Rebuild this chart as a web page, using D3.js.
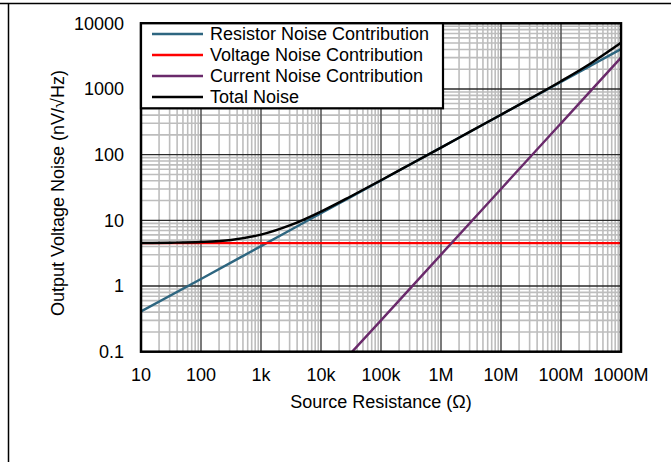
<!DOCTYPE html>
<html>
<head>
<meta charset="utf-8">
<script src="https://cdn.jsdelivr.net/npm/d3@7"></script>
<style>
  html, body { margin: 0; padding: 0; background: #fff; }
  svg { display: block; font-family: "Liberation Sans", Arial, sans-serif; }
</style>
</head>
<body>
<svg id="chart" width="671" height="462"></svg>
<script>
// Source resistance decades (ohms) and their tick labels
const xTicks = [10, 100, 1e3, 1e4, 1e5, 1e6, 1e7, 1e8, 1e9];
const xTickLabels = ["10", "100", "1k", "10k", "100k", "1M", "10M", "100M", "1000M"];
const yTicks = [0.1, 1, 10, 100, 1000, 10000];
const yTickLabels = ["0.1", "1", "10", "100", "1000", "10000"];

// Resistor thermal noise (nV/√Hz) vs. source resistance
const resistorR = [10, 100, 1e3, 1e4, 1e5, 1e6, 1e7, 1e8, 1e9];
const resistorNoise = [0.41, 1.28, 4.05, 12.8, 40.5, 128, 405, 1280, 4050];

// Amplifier voltage noise, flat across resistance
const voltageR = [10, 1e9];
const voltageNoise = [4.5, 4.5];

// Current noise times source resistance
const currentR = [3.3e4, 1e5, 1e6, 1e7, 1e8, 1e9];
const currentNoise = [0.1, 0.3, 3, 30, 300, 3000];

// Total output noise
const totalR = [10, 31.6, 100, 316, 1e3, 3160, 1e4, 31600, 1e5, 316000, 1e6, 3.16e6, 1e7, 3.16e7, 1e8, 3.16e8, 1e9];
const totalNoise = [4.52, 4.56, 4.68, 5.03, 6.05, 8.5, 13.6, 23.3, 40.8, 72.2, 128.1, 228.2, 406, 726, 1315, 2470, 5040];

const seriesNames = ["Resistor Noise Contribution", "Voltage Noise Contribution", "Current Noise Contribution", "Total Noise"];
const seriesColors = ["#2e6680", "#ff0000", "#6a2a6b", "#000000"];

const series = [
  { name: seriesNames[0], color: seriesColors[0], xs: resistorR, ys: resistorNoise },
  { name: seriesNames[1], color: seriesColors[1], xs: voltageR, ys: voltageNoise },
  { name: seriesNames[2], color: seriesColors[2], xs: currentR, ys: currentNoise },
  { name: seriesNames[3], color: seriesColors[3], xs: totalR, ys: totalNoise }
];

const svg = d3.select("#chart");
const plot = { left: 141, right: 621, top: 23.3, bottom: 351.7 };

const x = d3.scaleLog().domain([10, 1e9]).range([plot.left, plot.right]);
const y = d3.scaleLog().domain([0.1, 10000]).range([plot.bottom, plot.top]);

// Outer frame lines
svg.append("line").attr("x1", 0).attr("x2", 671).attr("y1", 3.5).attr("y2", 3.5)
  .attr("stroke", "#000").attr("stroke-width", 1.5);
svg.append("line").attr("x1", 8.5).attr("x2", 8.5).attr("y1", 3).attr("y2", 462)
  .attr("stroke", "#000").attr("stroke-width", 1.5);

// Minor grid values (2..9 within each decade)
const minorX = [];
for (let d = 10; d < 1e9; d *= 10) for (let m = 2; m <= 9; m++) minorX.push(d * m);
const minorY = [];
for (let d = 0.1; d < 10000 * 0.99; d *= 10) for (let m = 2; m <= 9; m++) minorY.push(d * m);

const grid = svg.append("g");
grid.selectAll(".mx").data(minorX).join("line")
  .attr("x1", d => x(d)).attr("x2", d => x(d))
  .attr("y1", plot.top).attr("y2", plot.bottom)
  .attr("stroke", "#bdbdbd").attr("stroke-width", 1.6);
grid.selectAll(".my").data(minorY).join("line")
  .attr("x1", plot.left).attr("x2", plot.right)
  .attr("y1", d => y(d)).attr("y2", d => y(d))
  .attr("stroke", "#bdbdbd").attr("stroke-width", 1.6);
grid.selectAll(".Mx").data(xTicks.slice(1, -1)).join("line")
  .attr("x1", d => x(d)).attr("x2", d => x(d))
  .attr("y1", plot.top).attr("y2", plot.bottom)
  .attr("stroke", "#5a5a5a").attr("stroke-width", 1.6);
grid.selectAll(".My").data(yTicks.slice(1, -1)).join("line")
  .attr("x1", plot.left).attr("x2", plot.right)
  .attr("y1", d => y(d)).attr("y2", d => y(d))
  .attr("stroke", "#2a2a2a").attr("stroke-width", 1.3);

// Data lines, clipped to the plot area
svg.append("clipPath").attr("id", "clip").append("rect")
  .attr("x", plot.left).attr("y", plot.top)
  .attr("width", plot.right - plot.left).attr("height", plot.bottom - plot.top);

const line = d3.line().x(d => x(d[0])).y(d => y(d[1])).curve(d3.curveMonotoneX);
const lines = svg.append("g").attr("clip-path", "url(#clip)");
lines.selectAll("path").data(series).join("path")
  .attr("d", s => line(s.xs.map((v, i) => [v, s.ys[i]])))
  .attr("fill", "none")
  .attr("stroke", s => s.color)
  .attr("stroke-width", 2.4);

// Plot border
svg.append("rect")
  .attr("x", plot.left).attr("y", plot.top)
  .attr("width", plot.right - plot.left).attr("height", plot.bottom - plot.top)
  .attr("fill", "none").attr("stroke", "#000").attr("stroke-width", 2.5);

// Legend
const legend = svg.append("g");
legend.append("rect")
  .attr("x", plot.left).attr("y", plot.top)
  .attr("width", 302).attr("height", 85)
  .attr("fill", "#fff").attr("stroke", "#000").attr("stroke-width", 2.2);
const rows = legend.selectAll("g.row").data(series).join("g")
  .attr("transform", (d, i) => `translate(0, ${34 + i * 21})`);
rows.append("line").attr("x1", 152).attr("x2", 203).attr("y1", 0).attr("y2", 0)
  .attr("stroke", d => d.color).attr("stroke-width", 2.4);
rows.append("text").attr("x", 210).attr("y", 0).attr("dy", "0.35em")
  .attr("font-size", 18).attr("fill", "#000").text(d => d.name);

// X axis tick labels
svg.append("g").selectAll("text").data(xTicks).join("text")
  .attr("x", d => x(d)).attr("y", 381)
  .attr("text-anchor", "middle").attr("font-size", 18)
  .text((d, i) => xTickLabels[i]);

// Y axis tick labels
svg.append("g").selectAll("text").data(yTicks).join("text")
  .attr("x", 124).attr("y", d => y(d)).attr("dy", "0.35em")
  .attr("text-anchor", "end").attr("font-size", 18)
  .text((d, i) => yTickLabels[i]);

// Axis titles
svg.append("text").attr("x", 381).attr("y", 408)
  .attr("text-anchor", "middle").attr("font-size", 18)
  .text("Source Resistance (Ω)");
svg.append("text")
  .attr("transform", "translate(64, 193) rotate(-90)")
  .attr("text-anchor", "middle").attr("font-size", 18)
  .text("Output Voltage Noise (nV/√Hz)");
</script>
</body>
</html>
